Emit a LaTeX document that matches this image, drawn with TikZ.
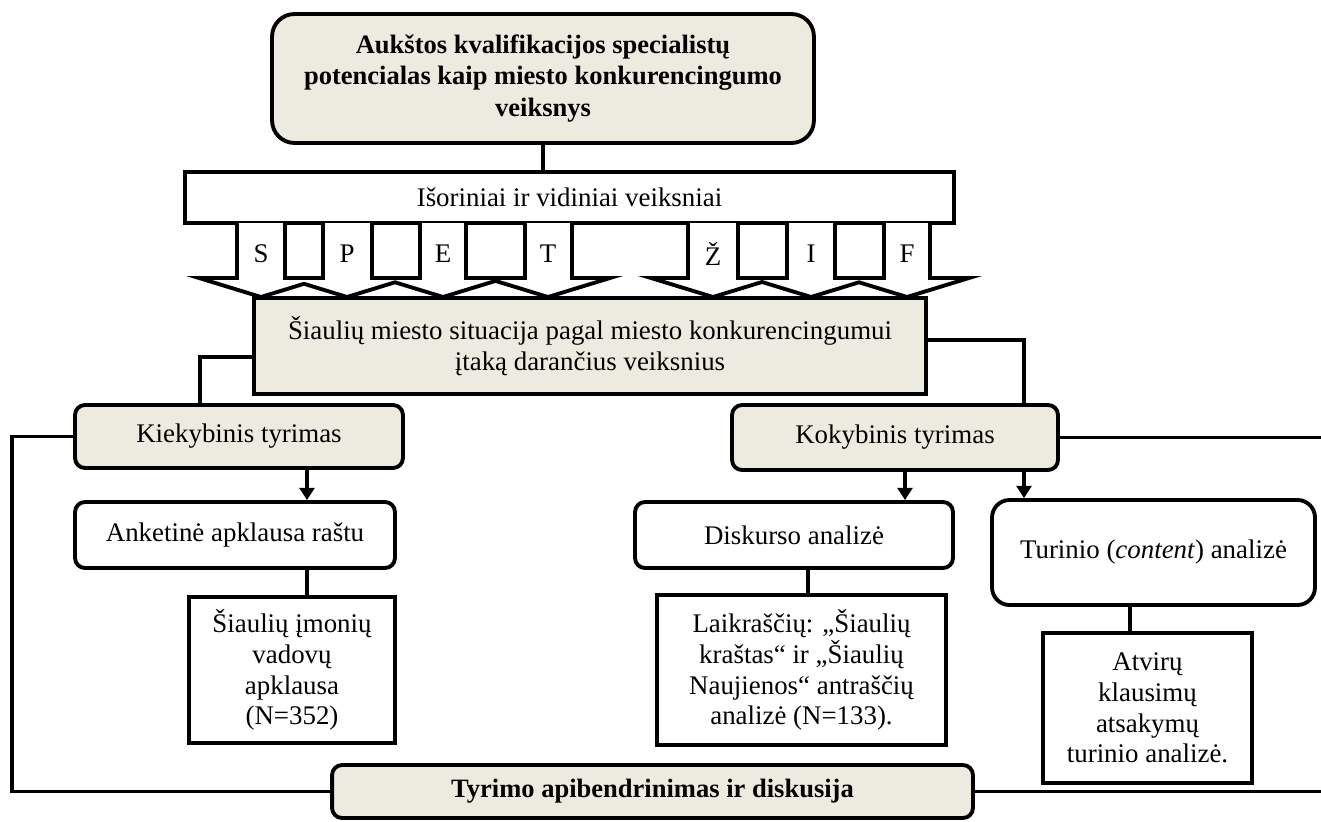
\documentclass[tikz,border=0pt]{standalone}
\usepackage{fontspec}
\setmainfont{Liberation Serif}
\usetikzlibrary{arrows.meta}
\definecolor{smelis}{RGB}{237,235,224}

\begin{document}
\begin{tikzpicture}[x=0.02cm,y=-0.02cm,line width=2.2pt,
    font=\fontsize{15.3}{17.5}\selectfont,
    rodykle/.style={-{Triangle[width=8.5pt,length=7pt]}}]
\useasboundingbox (0,0) rectangle (1321,821);

% stulpeliai jungtims
\coordinate (k0) at (200,0);
\coordinate (k1) at (307,0);
\coordinate (k2) at (905,0);
\coordinate (k3) at (1024,0);
\coordinate (k4) at (808,0);
\coordinate (k5) at (1130,0);
\coordinate (kl) at (12,600);
\coordinate (kr) at (1330,0);

% veiksniai
\node[draw,fill=white,minimum width=15.38cm,minimum height=1.02cm] (isor) at (569.5,197.5) {Išoriniai ir vidiniai veiksniai};

% rodykles S P E T
\draw[fill=white] (237,223) -- (237,278) -- (199,278) -- (261,297) -- (304,283.8) -- (347,297) -- (395,282.3) -- (443,297) -- (495.5,280.9) -- (548,297) -- (610,278) -- (572,278) -- (572,223);
\draw[fill=white] (285,223) rectangle (323,278) (372,223) rectangle (420,278) (466,223) rectangle (525,278);
% rodykles Z I F
\draw[fill=white] (688,223) -- (688,278) -- (651,278) -- (713,297) -- (762,282) -- (811,297) -- (859,282.3) -- (907,297) -- (969,278) -- (930,278) -- (930,223);
\draw[fill=white] (738,223) rectangle (787,278) (835,223) rectangle (884,278);
\foreach \x/\r [count=\i] in {261/S,347/P,443/E,548/T,713/Ž,811/I,907/F}
  \node (raide\i) at (\x,254) {\r};

\begin{scope}[every node/.style={draw,fill=smelis,rounded corners=0.2cm,align=center}]
  \node[minimum width=10.84cm,minimum height=2.58cm,rounded corners=0.45cm,font=\fontsize{15.1}{17.8}\selectfont\bfseries] (tema) at (543,78.5) {Aukštos kvalifikacijos specialistų\\potencialas kaip miesto konkurencingumo\\veiksnys};
  \node[minimum width=13.44cm,minimum height=1.92cm,sharp corners] (situacija) at (590,346) {Šiaulių miesto situacija pagal miesto konkurencingumui\\įtaką darančius veiksnius};
  \node[minimum width=6.56cm,minimum height=1.26cm] (kiek) at (239,436.5) {Kiekybinis tyrimas};
  \node[minimum width=6.52cm,minimum height=1.3cm] (koky) at (895,437.5) {Kokybinis tyrimas};
  \node[minimum width=12.82cm,minimum height=1.06cm,font=\fontsize{15.1}{17.8}\selectfont\bfseries] (tyrimas) at (652.5,791.5) {Tyrimo apibendrinimas ir diskusija};
\end{scope}

\begin{scope}[every node/.style={draw,fill=white,rounded corners=0.2cm,align=center}]
  \node[minimum width=6.4cm,minimum height=1.32cm] (anketa) at (235,535) {Anketinė apklausa raštu};
  \node[minimum width=6.36cm,minimum height=1.32cm] (diskursas) at (794,535) {Diskurso analizė};
  \node[minimum width=6.46cm,minimum height=2.1cm,rounded corners=0.35cm] (turinys) at (1153.5,552.5) {Turinio (\textit{content}) analizė};
\end{scope}

\begin{scope}[every node/.style={draw,fill=white,align=center}]
  \node[minimum width=4.12cm,minimum height=2.92cm] (imones) at (292,670) {Šiaulių įmonių\\vadovų\\apklausa\\(N=352)};
  \node[minimum width=5.78cm,minimum height=3cm] (laikrasciai) at (801.5,670) {Laikraščių: „Šiaulių\\kraštas“ ir „Šiaulių\\Naujienos“ antraščių\\analizė (N=133).};
  \node[minimum width=4.18cm,minimum height=3cm] (atviri) at (1147.5,708) {Atvirų\\klausimų\\atsakymų\\turinio analizė.};
\end{scope}

\begin{scope}[every edge/.style={draw,line width=2.2pt}]
  \path (tema.south) edge (tema.south |- isor.north);
  \path [rodykle] (kiek.south -| k1) edge (anketa.north -| k1);
  \path [rodykle] (koky.south -| k2) edge (diskursas.north -| k2);
  \path [rodykle] (koky.south -| k3) edge (turinys.north -| k3);
  \path (anketa.south -| k1) edge (imones.north -| k1);
  \path (diskursas.south -| k4) edge (laikrasciai.north -| k4);
  \path (turinys.south -| k5) edge (atviri.north -| k5);
  \path (koky.east) edge (koky.east -| kr);
  \path (tyrimas.east) edge (tyrimas.east -| kr);
\end{scope}
\draw ([yshift=-0.22cm]situacija.west) -| (kiek.north -| k0);
\draw ([yshift=0.12cm]situacija.east) -| (koky.north -| k3);
\draw (kiek.west) -| (kl) |- (tyrimas.west);

\end{tikzpicture}
\end{document}
